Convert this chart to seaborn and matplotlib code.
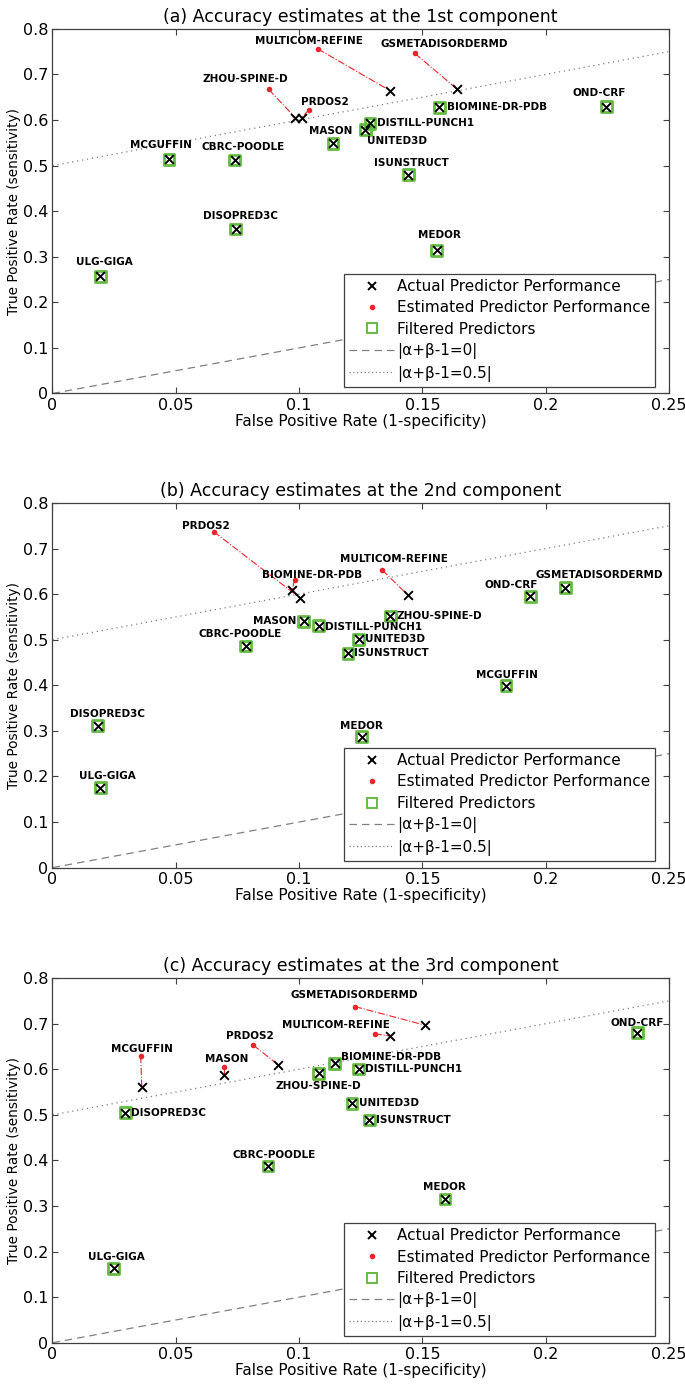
import numpy as np
import pandas as pd
import matplotlib
matplotlib.use("Agg")
import matplotlib.pyplot as plt
from matplotlib.lines import Line2D
from matplotlib.ticker import FuncFormatter
import seaborn as sns


# predictors (same order in every panel)
PREDICTORS = ["MULTICOM-REFINE", "GSMETADISORDERMD", "ZHOU-SPINE-D", "PRDOS2",
              "OND-CRF", "BIOMINE-DR-PDB", "DISTILL-PUNCH1", "MASON", "UNITED3D",
              "MCGUFFIN", "CBRC-POODLE", "ISUNSTRUCT", "DISOPRED3C", "MEDOR",
              "ULG-GIGA"]

NA = np.nan

# (a) 1st component
FPR_1 = [0.137, 0.164, 0.0985, 0.101, 0.2246, 0.1569, 0.1288, 0.1138, 0.1269,
         0.0473, 0.0739, 0.1443, 0.0743, 0.1558, 0.0194]
TPR_1 = [0.664, 0.668, 0.605, 0.605, 0.629, 0.628, 0.593, 0.549, 0.579,
         0.514, 0.512, 0.480, 0.361, 0.314, 0.257]
EST_FPR_1 = [0.1076, 0.147, 0.0877, 0.1041, NA, NA, NA, NA, NA, NA, NA, NA, NA, NA, NA]
EST_TPR_1 = [0.756, 0.746, 0.667, 0.623, NA, NA, NA, NA, NA, NA, NA, NA, NA, NA, NA]

# (b) 2nd component
FPR_2 = [0.1441, 0.208, 0.137, 0.1005, 0.1937, 0.0972, 0.108, 0.1018, 0.1241,
         0.1839, 0.0783, 0.1198, 0.0183, 0.1254, 0.0194]
TPR_2 = [0.598, 0.614, 0.552, 0.591, 0.595, 0.609, 0.531, 0.540, 0.501,
         0.399, 0.4865, 0.470, 0.311, 0.287, 0.1754]
EST_FPR_2 = [0.1337, NA, NA, 0.0654, NA, 0.0982, NA, NA, NA, NA, NA, NA, NA, NA, NA]
EST_TPR_2 = [0.653, NA, NA, 0.737, NA, 0.632, NA, NA, NA, NA, NA, NA, NA, NA, NA]

# (c) 3rd component
FPR_3 = [0.137, 0.1512, 0.108, 0.0916, 0.2372, 0.1144, 0.1242, 0.0694, 0.1215,
         0.0362, 0.0874, 0.1285, 0.0296, 0.1592, 0.0249]
TPR_3 = [0.673, 0.6965, 0.591, 0.6095, 0.680, 0.613, 0.6007, 0.5876, 0.5254,
         0.5606, 0.388, 0.4888, 0.505, 0.3154, 0.163]
EST_FPR_3 = [0.1307, 0.1227, NA, 0.0814, NA, NA, NA, 0.0694, NA, 0.0358, NA, NA, NA, NA, NA]
EST_TPR_3 = [0.6776, 0.7375, NA, 0.653, NA, NA, NA, 0.606, NA, 0.629, NA, NA, NA, NA, NA]

TITLES = ["(a) Accuracy estimates at the 1st component",
          "(b) Accuracy estimates at the 2nd component",
          "(c) Accuracy estimates at the 3rd component"]

X_TICKS = [0, 0.05, 0.1, 0.15, 0.2, 0.25]
Y_TICKS = [0, 0.1, 0.2, 0.3, 0.4, 0.5, 0.6, 0.7, 0.8]
FPR_RANGE = np.array([0.0, 0.25])

# label placement: offset in pixels from the marker (estimate if present), alignment
LABEL_POS = [
    {"MULTICOM-REFINE": (-9, 8, "center"), "GSMETADISORDERMD": (29, 9, "center"),
     "ZHOU-SPINE-D": (-23, 10, "center"), "PRDOS2": (16, 8, "center"),
     "OND-CRF": (-7, 14, "center"), "BIOMINE-DR-PDB": (8, 0, "left"),
     "DISTILL-PUNCH1": (7, 0, "left"), "MASON": (-2, 12, "center"),
     "UNITED3D": (2, -11, "left"), "MCGUFFIN": (-8, 14, "center"),
     "CBRC-POODLE": (8, 13, "center"), "ISUNSTRUCT": (3, 12, "center"),
     "DISOPRED3C": (5, 13, "center"), "MEDOR": (3, 15, "center"),
     "ULG-GIGA": (4, 14, "center")},
    {"MULTICOM-REFINE": (12, 11, "center"), "GSMETADISORDERMD": (34, 13, "center"),
     "ZHOU-SPINE-D": (6, 0, "left"), "PRDOS2": (-8, 6, "center"),
     "OND-CRF": (-19, 11, "center"), "BIOMINE-DR-PDB": (17, 5, "center"),
     "DISTILL-PUNCH1": (6, -1, "left"), "MASON": (-7, 0, "right"),
     "UNITED3D": (6, 0, "left"), "MCGUFFIN": (1, 11, "center"),
     "CBRC-POODLE": (-5, 12, "center"), "ISUNSTRUCT": (6, 0, "left"),
     "DISOPRED3C": (10, 12, "center"), "MEDOR": (0, 11, "center"),
     "ULG-GIGA": (7, 12, "center")},
    {"MULTICOM-REFINE": (-39, 9, "center"), "GSMETADISORDERMD": (-1, 12, "center"),
     "ZHOU-SPINE-D": (0, -13, "center"), "PRDOS2": (-3, 9, "center"),
     "OND-CRF": (0, 10, "center"), "BIOMINE-DR-PDB": (6, 6, "left"),
     "DISTILL-PUNCH1": (6, 0, "left"), "MASON": (3, 8, "center"),
     "UNITED3D": (7, 0, "left"), "MCGUFFIN": (1, 7, "center"),
     "CBRC-POODLE": (6, 11, "center"), "ISUNSTRUCT": (7, 0, "left"),
     "DISOPRED3C": (6, 0, "left"), "MEDOR": (-1, 12, "center"),
     "ULG-GIGA": (3, 11, "center")},
]

GREEN = "#66bb44"
RED = "#e8262b"
GREY = "#808080"

sns.set_style("ticks")
plt.rcParams["font.family"] = ["DejaVu Sans"]
plt.rcParams["text.color"] = "black"
plt.rcParams["axes.labelcolor"] = "black"
plt.rcParams["xtick.color"] = "black"
plt.rcParams["ytick.color"] = "black"
plt.rcParams["xtick.direction"] = "in"
plt.rcParams["ytick.direction"] = "in"
plt.rcParams["xtick.top"] = True
plt.rcParams["ytick.right"] = True

panels = [
    (FPR_1, TPR_1, EST_FPR_1, EST_TPR_1),
    (FPR_2, TPR_2, EST_FPR_2, EST_TPR_2),
    (FPR_3, TPR_3, EST_FPR_3, EST_TPR_3),
]
bottoms = [0.7161, 0.374, 0.0312]

fig = plt.figure(figsize=(6.85, 13.86), dpi=100)

for i, (fpr, tpr, efpr, etpr) in enumerate(panels):
    df = pd.DataFrame({"name": PREDICTORS, "fpr": fpr, "tpr": tpr,
                       "est_fpr": efpr, "est_tpr": etpr})
    filt = df[df["est_fpr"].isna()]
    est = df[df["est_fpr"].notna()]

    ax = fig.add_axes([0.0766, bottoms[i], 0.9, 0.2631])

    # reference lines
    sns.lineplot(x=FPR_RANGE, y=FPR_RANGE, color=GREY, linestyle=(0, (6, 4)),
                 linewidth=0.9, ax=ax, zorder=1)
    sns.lineplot(x=FPR_RANGE, y=FPR_RANGE + 0.5, color=GREY, linestyle=(0, (1, 3)),
                 linewidth=0.9, ax=ax, zorder=1)

    # estimate -> actual connectors
    for _, r in est.iterrows():
        ax.plot([r["est_fpr"], r["fpr"]], [r["est_tpr"], r["tpr"]], color=RED,
                linestyle="-.", linewidth=0.8, zorder=2)

    sns.scatterplot(data=filt, x="fpr", y="tpr", marker="s", s=60,
                    facecolors="none", edgecolors=GREEN, linewidth=2.0,
                    ax=ax, zorder=3)
    sns.scatterplot(data=est, x="est_fpr", y="est_tpr", marker="o", s=16,
                    color=RED, linewidth=0, ax=ax, zorder=4)
    sns.scatterplot(data=df, x="fpr", y="tpr", marker="x", s=40, color="black",
                    linewidth=1.4, ax=ax, zorder=5)

    for _, r in df.iterrows():
        dx, dy, ha = LABEL_POS[i][r["name"]]
        if np.isnan(r["est_fpr"]):
            px, py = r["fpr"], r["tpr"]
        else:
            px, py = r["est_fpr"], r["est_tpr"]
        ax.annotate(r["name"], (px, py), xytext=(dx, dy), textcoords="offset pixels",
                    ha=ha, va="center", fontsize=7.5, fontweight="bold", zorder=6)

    ax.set_xlim(0, 0.25)
    ax.set_ylim(0, 0.8)
    ax.set_xticks(X_TICKS)
    ax.set_yticks(Y_TICKS)
    ax.xaxis.set_major_formatter(FuncFormatter(lambda v, p: f"{v:g}"))
    ax.yaxis.set_major_formatter(FuncFormatter(lambda v, p: f"{v:g}"))
    ax.tick_params(labelsize=11.5, length=4, width=0.8, color="#404040", pad=3)
    for sp in ax.spines.values():
        sp.set_color("#404040")
        sp.set_linewidth(0.9)
    ax.set_xlabel("False Positive Rate (1-specificity)", fontsize=11, labelpad=1)
    ax.set_ylabel("True Positive Rate (sensitivity)", fontsize=9.8, labelpad=1)
    ax.set_title(TITLES[i], fontsize=12.5, pad=5)

    handles = [
        Line2D([], [], marker="x", color="black", linestyle="none", markersize=6,
               markeredgewidth=1.4),
        Line2D([], [], marker="o", color=RED, linestyle="none", markersize=3),
        Line2D([], [], marker="s", markerfacecolor="none", markeredgecolor=GREEN,
               linestyle="none", markersize=7, markeredgewidth=1.4),
        Line2D([], [], color=GREY, linestyle=(0, (6, 4)), linewidth=0.9),
        Line2D([], [], color=GREY, linestyle=(0, (1, 2)), linewidth=0.9),
    ]
    labels = ["Actual Predictor Performance", "Estimated Predictor Performance",
              "Filtered Predictors", "|\u03b1+\u03b2-1=0|", "|\u03b1+\u03b2-1=0.5|"]
    leg = ax.legend(handles, labels, loc="lower right", bbox_to_anchor=(0.978, 0.018),
                    fontsize=11, frameon=True, fancybox=False, framealpha=1,
                    edgecolor="#404040", handlelength=2.9, handletextpad=0.2,
                    labelspacing=0.42, borderpad=0.35, borderaxespad=0)
    leg.get_frame().set_linewidth(0.9)
    leg.set_zorder(10)

fig.savefig("out.png", dpi=100)
